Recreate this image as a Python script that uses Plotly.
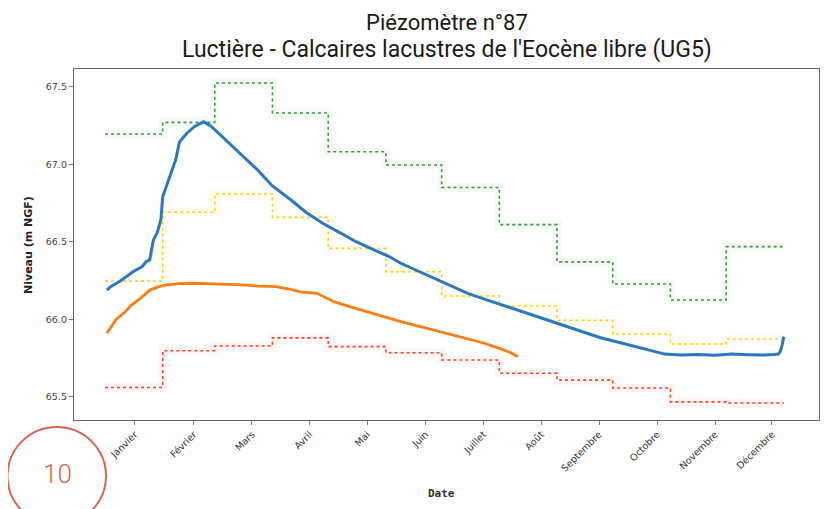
import plotly.graph_objects as go

# Days of year (0 = 1 janvier) for the start of each month, plus the year end
month_start = [0, 31, 59, 90, 120, 151, 181, 212, 243, 273, 304, 334]
year_end = 365

# Monthly reference levels (m NGF)
niv_max = [67.195, 67.27, 67.524, 67.33, 67.08, 66.995, 66.85, 66.61, 66.37, 66.227, 66.124, 66.468]
niv_moy = [66.246, 66.69, 66.808, 66.657, 66.457, 66.306, 66.15, 66.085, 65.993, 65.905, 65.84, 65.872]
niv_min = [65.56, 65.797, 65.827, 65.88, 65.823, 65.784, 65.737, 65.652, 65.607, 65.556, 65.467, 65.46]

# Blue series (previous year, full year)
jour_bleu = [1, 3, 8, 15, 20, 22, 24, 26, 28, 30, 31, 33, 35, 38, 40, 44, 48, 52, 53,
             57, 63, 72, 82, 90, 100, 108, 117, 126, 135, 144, 153, 159, 168, 177, 186,
             195, 204, 212, 221, 230, 239, 248, 257, 266, 275, 283, 292, 301, 310, 319,
             328, 337, 346, 354, 360, 362, 363, 364, 365]
niv_bleu = [66.188, 66.21, 66.245, 66.306, 66.34, 66.371, 66.382, 66.511, 66.556, 66.64,
            66.79, 66.86, 66.919, 67.03, 67.143, 67.2, 67.242, 67.268, 67.274,
            67.245, 67.177, 67.07, 66.963, 66.86, 66.769, 66.69, 66.619, 66.56, 66.5,
            66.45, 66.403, 66.361, 66.313, 66.264, 66.215, 66.167, 66.13, 66.098, 66.062,
            66.027, 65.992, 65.959, 65.92, 65.882, 65.855, 65.829, 65.8, 65.775, 65.769,
            65.772, 65.768, 65.775, 65.771, 65.769, 65.773, 65.775, 65.79, 65.83, 65.888]

# Orange series (current year, until end of July)
jour_orange = [1, 4, 6, 10, 14, 19, 24, 29, 33, 40, 46, 55, 64, 73, 82, 92, 99, 105,
               114, 123, 132, 141, 150, 159, 168, 177, 186, 195, 204, 212, 218, 222]
niv_orange = [65.909, 65.96, 66.0, 66.038, 66.09, 66.135, 66.188, 66.21, 66.221, 66.229,
              66.232, 66.23, 66.227, 66.222, 66.214, 66.21, 66.195, 66.177, 66.167, 66.113,
              66.08, 66.048, 66.016, 65.984, 65.957, 65.93, 65.904, 65.877, 65.845, 65.812,
              65.785, 65.758]

mois = ['Janvier', 'Février', 'Mars', 'Avril', 'Mai', 'Juin', 'Juillet', 'Août',
        'Septembre', 'Octobre', 'Novembre', 'Décembre']
tick_jour = [16, 47.8, 79, 110, 141, 172.3, 203.5, 234.5, 265.6, 296.8, 328, 358.6]


def step_x(values):
    return month_start + [year_end], values + [values[-1]]


fig = go.Figure()

for vals, col in [(niv_max, '#3c9b3c'), (niv_moy, '#f7d21c'), (niv_min, '#f4432a')]:
    sx, sy = step_x(vals)
    # faint halo around the dotted step lines
    fig.add_trace(go.Scatter(x=sx, y=sy, mode='lines', line_shape='hv',
                             line=dict(color=col, width=9), opacity=0.045,
                             hoverinfo='skip', showlegend=False))
    fig.add_trace(go.Scatter(x=sx, y=sy, mode='lines', line_shape='hv',
                             line=dict(color=col, width=1.6, dash='dot'),
                             showlegend=False))

fig.add_trace(go.Scatter(x=jour_bleu, y=niv_bleu, mode='lines',
                         line=dict(color='#2a78c2', width=3), showlegend=False))
fig.add_trace(go.Scatter(x=jour_orange, y=niv_orange, mode='lines',
                         line=dict(color='#fb7d16', width=2.8), showlegend=False))

# the page body adds an 8px margin, so the figure is drawn 8px smaller
OFF = 8
W, H = 831 - OFF, 509 - OFF
# plot area in page pixels: x 74..819, y 69..420
L, R, T, B = 74 - OFF, 819 - OFF, 69 - OFF, 420 - OFF


def px(x):
    return (x - OFF - L) / (R - L)


def py(y):
    return (B - (y - OFF)) / (B - T)


def note(text, x, y, font, angle=0):
    return dict(text=text, x=px(x), y=py(y), xref='paper', yref='paper',
                xanchor='center', yanchor='middle', showarrow=False,
                textangle=angle, font=font)


fig.update_layout(
    width=W, height=H,
    margin=dict(l=L, r=W - R, t=T, b=H - B),
    paper_bgcolor='white', plot_bgcolor='white',
    font=dict(family='DejaVu Sans', color='#333'),
    annotations=[
        note('Piézomètre n°87', 447, 22, dict(family='Roboto', size=22, color='#1a1a1a')),
        note("Luctière - Calcaires lacustres de l'Eocène libre (UG5)", 447, 50,
             dict(family='Roboto', size=23, color='#1a1a1a')),
        note('<b>Niveau (m NGF)</b>', 29, 245, dict(family='DejaVu Sans', size=11, color='#222')),
        note('<b>Date</b>', 441, 493, dict(family='DejaVu Sans Mono', size=11, color='#333')),
        note('10', 57, 474, dict(family='Roboto', size=26, color='#d9634f', weight=300)),
    ],
    shapes=[
        dict(type='circle', xref='paper', yref='paper', layer='above',
             x0=px(7.5), x1=px(106), y0=py(525), y1=py(427),
             line=dict(color='#d9634f', width=2)),
    ],
)
fig.layout.annotations[2].textangle = -90

fig.update_xaxes(range=[-16.7, 383.9], tickmode='array', tickvals=tick_jour, ticktext=mois,
                 tickangle=-45, ticks='outside', ticklen=4, tickcolor='#777',
                 tickfont=dict(family='DejaVu Sans', size=9.5, color='#333'),
                 showgrid=False, zeroline=False,
                 showline=True, linecolor='#666', linewidth=1.3, mirror=True)
fig.update_yaxes(range=[65.35, 67.614], tickmode='array', tickvals=[65.5, 66.0, 66.5, 67.0, 67.5],
                 ticktext=['65.5', '66.0', '66.5', '67.0', '67.5'],
                 ticks='outside', ticklen=4, tickcolor='#777',
                 tickfont=dict(family='DejaVu Sans', size=9.5, color='#444'),
                 showgrid=False, zeroline=False,
                 showline=True, linecolor='#666', linewidth=1.3, mirror=True)

fig.write_html("out.html")
